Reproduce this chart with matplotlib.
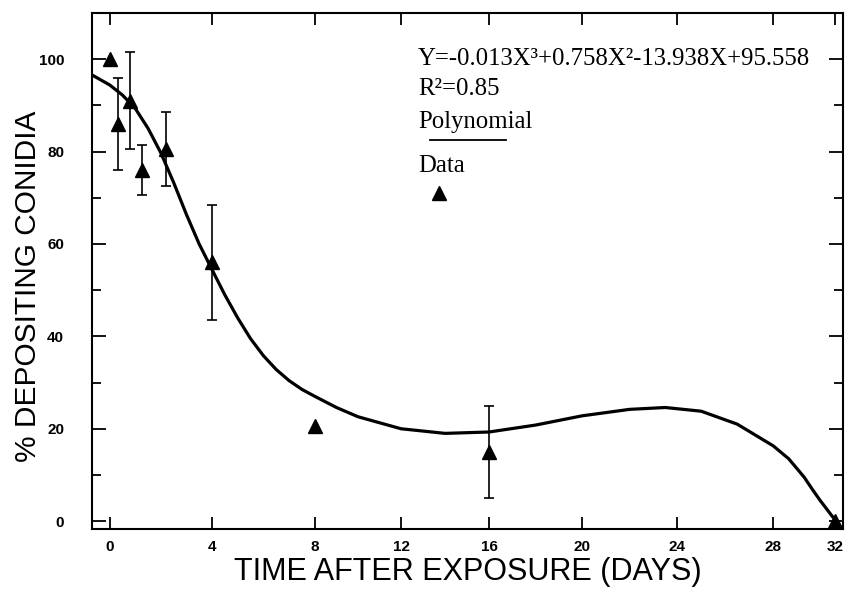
import numpy as np
import matplotlib
matplotlib.use('Agg')
import matplotlib.pyplot as plt

# measured data points (days, % depositing conidia, error)
days = [0, 0.33, 0.8, 1.25, 2.2, 4, 8, 16, 32]
pct = [100, 86, 91, 76, 80.5, 56, 20.5, 15, 0]
err = [0, 10, 10.5, 5.5, 8, 12.5, 0, 10, 0]

# fitted polynomial curve
fit_days = [-0.67, 0, 0.5, 1.0, 1.5, 2.0, 2.5, 3.0, 3.5, 4.0, 4.5, 5.0, 5.5,
            6.0, 6.5, 7.0, 7.5, 8.0, 9.0, 10.0, 12.0, 14.0, 16.0, 18.0, 20.0,
            22.0, 23.5, 25.0, 26.5, 28.0, 29.0, 30.0, 30.5, 31.0, 31.5, 32.0]
fit_pct = [96.5, 94.4, 92.2, 89.3, 85.0, 79.7, 73.3, 66.4, 60, 54.5, 49, 44,
           39.5, 35.8, 32.8, 30.4, 28.5, 27, 24.6, 22.6, 20, 19, 19.3, 20.8,
           22.8, 24.2, 24.6, 23.8, 21, 16.3, 13.5, 9.5, 7, 4.6, 2.4, 0.2]

xticks = [0, 4, 8, 12, 16, 20, 24, 28, 32]
yticks = [0, 20, 40, 60, 80, 100]

# the original axis is hand drawn: tick spacing is not uniform
knot_days = [-1, 0, 4, 8, 12, 16, 20, 24, 28, 32, 33]
knot_pos = [84.5, 110, 212, 315, 401, 489, 582, 677, 773, 835, 850.5]


def fwd(x):
    return np.interp(x, knot_days, knot_pos)


def inv(p):
    return np.interp(p, knot_pos, knot_days)


fig = plt.figure(figsize=(8.49, 5.92), dpi=100)
ax = fig.add_axes([92 / 849, 1 - 529 / 592, (843 - 92) / 849, (529 - 13) / 592])
ax.set_xscale('function', functions=(fwd, inv))

ax.plot(fit_days, fit_pct, color='black', lw=2.3, solid_joinstyle='round',
        solid_capstyle='round')

d = np.array(days)
p = np.array(pct)
e = np.array(err)
m = e > 0
ax.errorbar(d[m], p[m], yerr=e[m], fmt='none', ecolor='black', elinewidth=1.2,
            capsize=3.8, capthick=1.2)
ax.plot(d, p, linestyle='none', marker='^', ms=10, color='black', clip_on=False)

ax.set_xlim(-0.7, 32.5)
ax.set_ylim(-1.7, 110)
ax.set_xticks(xticks)
ax.set_xticklabels([str(t) for t in xticks])
ax.set_yticks(yticks)
ax.set_yticks([10, 30, 50, 70, 90], minor=True)
ax.xaxis.set_minor_locator(matplotlib.ticker.NullLocator())

ax.tick_params(axis='x', which='major', direction='in', top=True, bottom=True,
               length=8.5, width=1.3, pad=8)
ax.tick_params(axis='y', which='major', direction='in', left=True, right=True,
               length=10, width=1.3, pad=20)
ax.tick_params(axis='y', which='minor', direction='in', left=True, right=True,
               length=6.5, width=1.3)
for lab in ax.get_xticklabels() + ax.get_yticklabels():
    lab.set_fontfamily('Liberation Sans')
    lab.set_fontweight('bold')
    lab.set_fontsize(11)
for s in ax.spines.values():
    s.set_linewidth(1.5)

ax.set_xlabel('TIME AFTER EXPOSURE (DAYS)', fontsize=22, family='Liberation Sans',
              labelpad=2)
ax.set_ylabel('% DEPOSITING CONIDIA', fontsize=21.5, family='Liberation Sans')
ax.yaxis.set_label_coords(-0.066, 0.47)

# equation and key
serif = dict(family='Liberation Serif', fontsize=17.8, va='baseline', ha='left')
fig.text(418 / 849, 1 - 65 / 592, 'Y=-0.013X³+0.758X²-13.938X+95.558', **serif)
fig.text(418 / 849, 1 - 95 / 592, 'R²=0.85', **serif)
fig.text(418 / 849, 1 - 128 / 592, 'Polynomial', **serif)
fig.text(418 / 849, 1 - 172 / 592, 'Data', **serif)
ax.plot([430 / 849, 506 / 849], [1 - 140 / 592, 1 - 140 / 592], color='black',
        lw=1.3, transform=fig.transFigure, clip_on=False)
ax.plot([439 / 849], [1 - 193 / 592], marker='^', ms=10, color='black',
        transform=fig.transFigure, clip_on=False)

fig.savefig('out.png', dpi=100)
